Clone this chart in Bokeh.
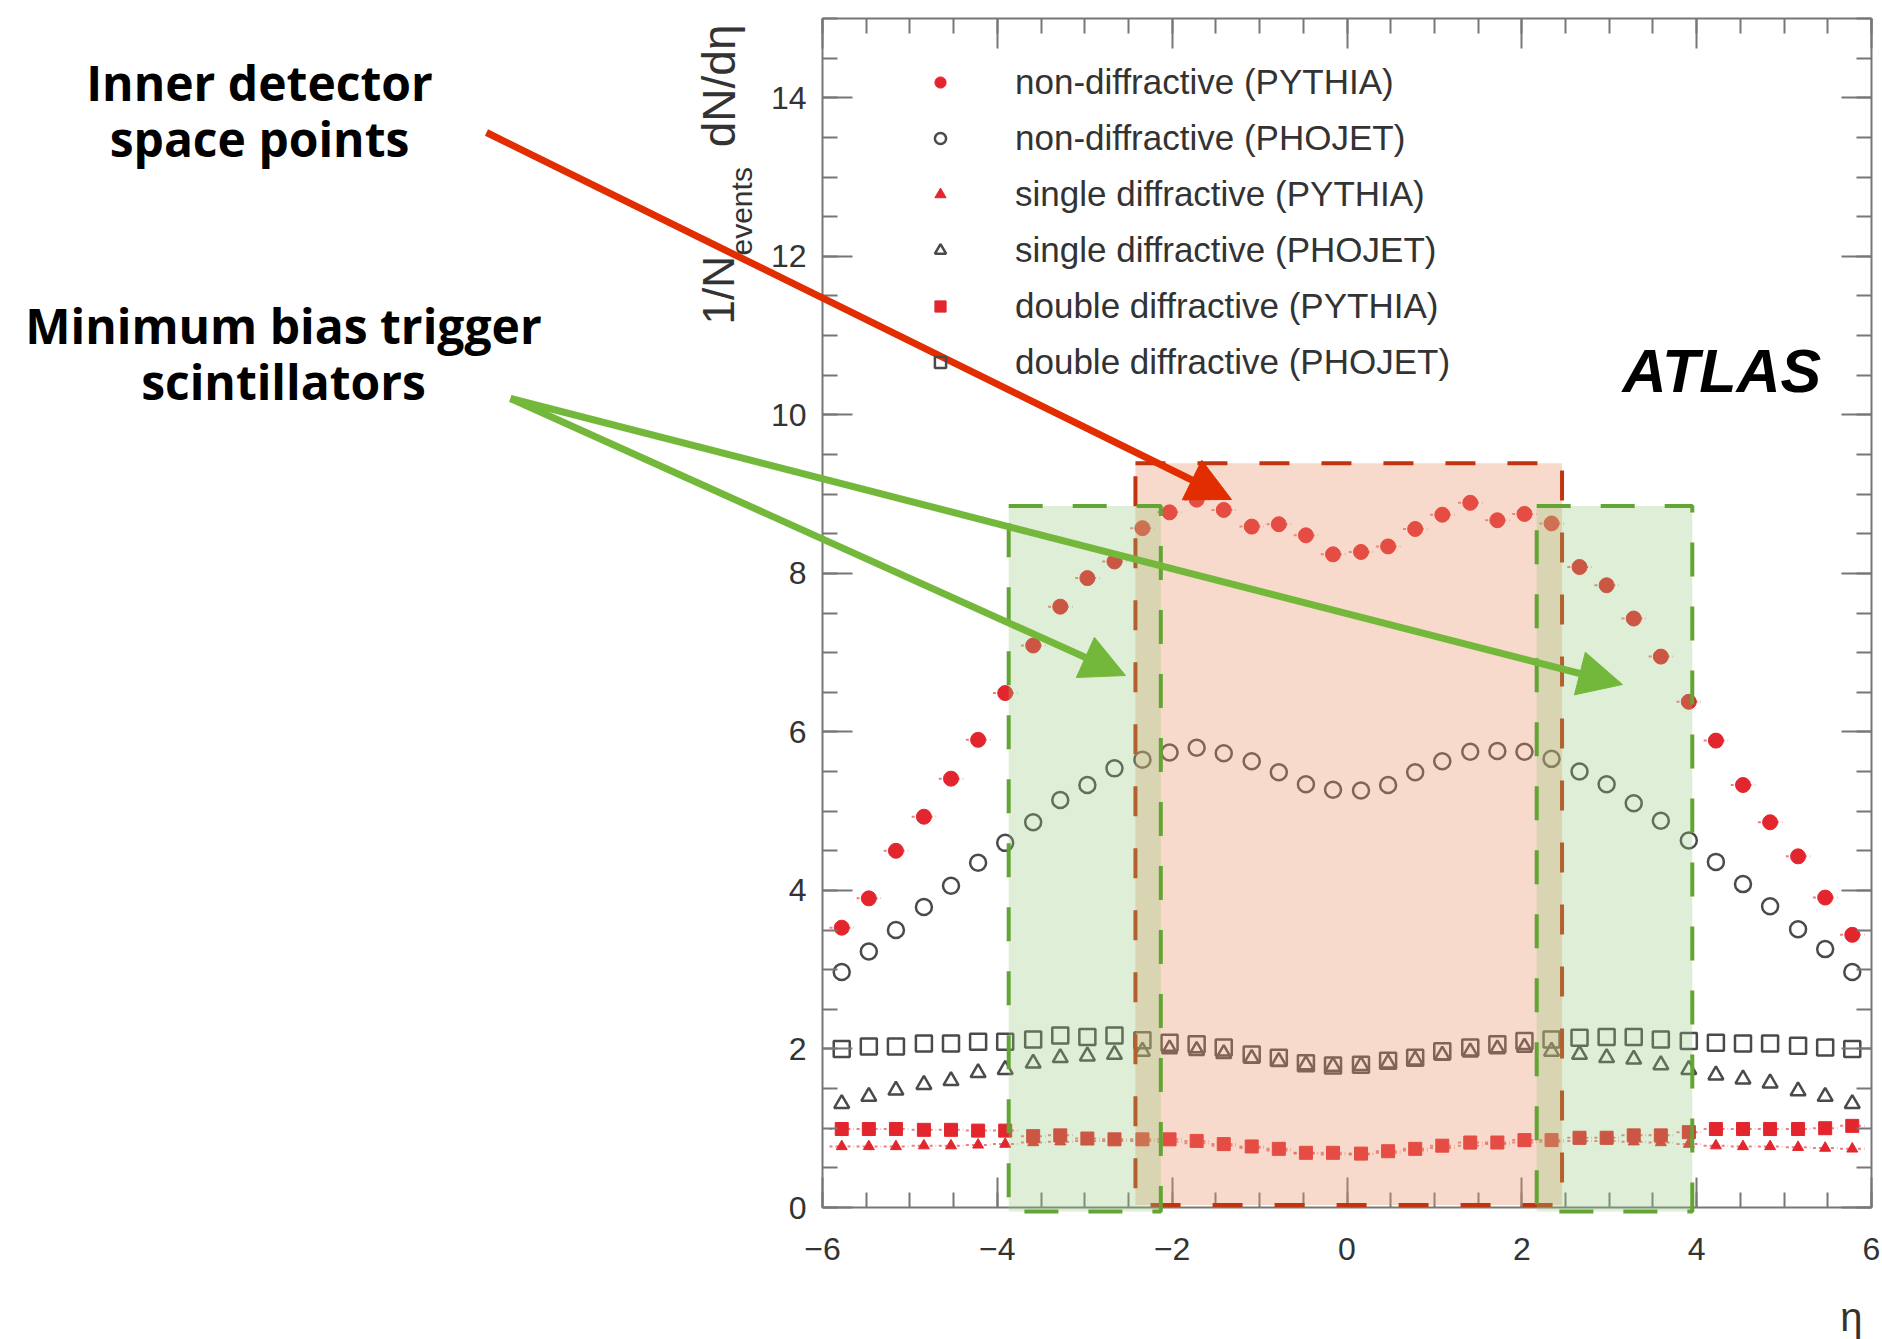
import numpy as np
from bokeh.plotting import figure
from bokeh.models import (BoxAnnotation, Arrow, NormalHead, Label, LinearAxis,
                          Legend, LegendItem, SingleIntervalTicker, Range1d)
from bokeh.embed import file_html
from bokeh.resources import INLINE

# ---------------- data ----------------
ETA = [-5.78, -5.47, -5.16, -4.84, -4.53, -4.22, -3.91, -3.59, -3.28, -2.97,
       -2.66, -2.34, -2.03, -1.72, -1.41, -1.09, -0.78, -0.47, -0.16,
       0.16, 0.47, 0.78, 1.09, 1.41, 1.72, 2.03, 2.34, 2.66, 2.97,
       3.28, 3.59, 3.91, 4.22, 4.53, 4.84, 5.16, 5.47, 5.78]

ND_PYTHIA = [3.53, 3.90, 4.50, 4.93, 5.41, 5.90, 6.49, 7.09, 7.58, 7.94,
             8.15, 8.57, 8.77, 8.93, 8.80, 8.59, 8.62, 8.48, 8.24,
             8.27, 8.34, 8.56, 8.74, 8.89, 8.67, 8.75, 8.63, 8.08, 7.85,
             7.43, 6.95, 6.38, 5.89, 5.33, 4.86, 4.43, 3.91, 3.44]

ND_PHOJET = [2.97, 3.23, 3.50, 3.79, 4.06, 4.35, 4.60, 4.86, 5.14, 5.33,
             5.54, 5.65, 5.74, 5.80, 5.73, 5.63, 5.49, 5.34, 5.27,
             5.26, 5.33, 5.49, 5.63, 5.75, 5.76, 5.75, 5.66, 5.50, 5.34,
             5.10, 4.88, 4.63, 4.36, 4.08, 3.80, 3.51, 3.26, 2.97]

SD_PYTHIA = [0.77, 0.77, 0.77, 0.78, 0.78, 0.79, 0.80, 0.82, 0.83, 0.84,
             0.84, 0.84, 0.83, 0.81, 0.78, 0.75, 0.72, 0.68, 0.67,
             0.67, 0.69, 0.72, 0.75, 0.78, 0.80, 0.82, 0.83, 0.84, 0.84,
             0.83, 0.82, 0.80, 0.78, 0.77, 0.77, 0.76, 0.75, 0.74]

SD_PHOJET = [1.31, 1.40, 1.48, 1.55, 1.60, 1.70, 1.74, 1.82, 1.89, 1.91,
             1.93, 1.97, 2.00, 1.98, 1.94, 1.88, 1.84, 1.80, 1.78,
             1.79, 1.82, 1.86, 1.92, 1.96, 2.00, 2.02, 1.97, 1.93, 1.89,
             1.87, 1.80, 1.74, 1.67, 1.62, 1.57, 1.47, 1.40, 1.31]

DD_PYTHIA = [0.99, 0.99, 0.99, 0.98, 0.98, 0.97, 0.97, 0.90, 0.91, 0.87,
             0.86, 0.86, 0.86, 0.84, 0.80, 0.77, 0.74, 0.69, 0.69,
             0.68, 0.71, 0.74, 0.78, 0.82, 0.82, 0.85, 0.85, 0.88, 0.88,
             0.91, 0.91, 0.95, 0.99, 0.99, 0.99, 0.99, 1.00, 1.03]

DD_PHOJET = [2.00, 2.03, 2.03, 2.07, 2.07, 2.09, 2.09, 2.12, 2.17, 2.15,
             2.17, 2.11, 2.08, 2.06, 2.02, 1.93, 1.89, 1.82, 1.79,
             1.80, 1.85, 1.89, 1.97, 2.02, 2.06, 2.10, 2.12, 2.14, 2.15,
             2.15, 2.12, 2.10, 2.08, 2.07, 2.07, 2.04, 2.02, 2.00]

LEGEND_LABELS = ["non-diffractive (PYTHIA)", "non-diffractive (PHOJET)",
                 "single diffractive (PYTHIA)", "single diffractive (PHOJET)",
                 "double diffractive (PYTHIA)", "double diffractive (PHOJET)"]

# detector acceptance regions (eta ranges) and heights of the overlay boxes
ID_RANGE = [-2.42, 2.46]
ID_TOP = 9.39
MBTS_LEFT = [-3.87, -2.13]
MBTS_RIGHT = [2.17, 3.95]
MBTS_TOP = 8.85
HALF_BIN = 0.14

# ---------------- layout ----------------
W, H = 1882, 1339
AX_L, AX_T, AX_W, AX_H = 822, 18, 1049, 1189     # pixel box of the chart's axes
X0, X1, Y0, Y1 = -6, 6, 0, 15


def dx(px):
    return X0 + (px - AX_L) * (X1 - X0) / AX_W


def dy(py):
    return Y0 + (AX_T + AX_H - py) * (Y1 - Y0) / AX_H


RED = "#e3262d"
GRAY = "#4a4a4a"
AXC = "#777777"
TICKFONT = "Liberation Sans"

# the frame covers the whole canvas so that the annotations outside the axes box
# (texts, arrows) are drawn; the axes are placed at fixed data locations
p = figure(width=W, height=H, x_range=Range1d(dx(0), dx(W)), y_range=Range1d(dy(H), dy(0)),
           output_backend="svg", toolbar_location=None,
           x_axis_location=None, y_axis_location=None)
p.min_border = 0
p.background_fill_color = "white"
p.border_fill_color = "white"
p.outline_line_color = None
p.grid.visible = False

ax_b = LinearAxis(fixed_location=Y0, bounds=(X0, X1))
ax_t = LinearAxis(fixed_location=Y1, bounds=(X0, X1))
ax_l = LinearAxis(fixed_location=X0, bounds=(Y0, Y1))
ax_r = LinearAxis(fixed_location=X1, bounds=(Y0, Y1))
p.add_layout(ax_b, "below")
p.add_layout(ax_t, "above")
p.add_layout(ax_l, "left")
p.add_layout(ax_r, "right")

for ax in (ax_b, ax_t, ax_l, ax_r):
    ax.ticker = SingleIntervalTicker(interval=2, num_minor_ticks=4)
    ax.major_tick_in = 30
    ax.major_tick_out = 0
    ax.minor_tick_in = 15
    ax.minor_tick_out = 0
    ax.major_tick_line_color = AXC
    ax.minor_tick_line_color = AXC
    ax.major_tick_line_width = 2
    ax.minor_tick_line_width = 2
    ax.axis_line_color = AXC
    ax.axis_line_width = 2
    ax.major_label_text_font = TICKFONT
    ax.major_label_text_font_size = "32px"
    ax.major_label_text_color = "#333333"

for ax in (ax_t, ax_r):
    ax.major_label_text_color = None
ax_b.major_label_standoff = 30
ax_l.major_label_standoff = 16

# ---------------- data marks ----------------
for vals in (DD_PYTHIA, SD_PYTHIA, ND_PYTHIA):
    p.segment(x0=[e - HALF_BIN for e in ETA], x1=[e + HALF_BIN for e in ETA],
              y0=vals, y1=vals, line_color=RED, line_alpha=0.6, line_width=2,
              line_dash="3 3")

r_sdp = p.scatter(ETA, SD_PYTHIA, marker="triangle", size=11, fill_color=RED, line_color=RED)
r_ddp = p.scatter(ETA, DD_PYTHIA, marker="square", size=13, fill_color=RED, line_color=RED)
r_sdh = p.scatter(ETA, SD_PHOJET, marker="triangle", size=15, fill_color=None,
                  line_color=GRAY, line_width=2.5)
r_ddh = p.scatter(ETA, DD_PHOJET, marker="square", size=16, fill_color=None,
                  line_color=GRAY, line_width=2.5)
r_ndh = p.scatter(ETA, ND_PHOJET, marker="circle", size=16, fill_color=None,
                  line_color=GRAY, line_width=2.5)
r_ndp = p.scatter(ETA, ND_PYTHIA, marker="circle", size=15, fill_color=RED, line_color=RED)

legend = Legend(items=[LegendItem(label=LEGEND_LABELS[0], renderers=[r_ndp]),
                       LegendItem(label=LEGEND_LABELS[1], renderers=[r_ndh]),
                       LegendItem(label=LEGEND_LABELS[2], renderers=[r_sdp]),
                       LegendItem(label=LEGEND_LABELS[3], renderers=[r_sdh]),
                       LegendItem(label=LEGEND_LABELS[4], renderers=[r_ddp]),
                       LegendItem(label=LEGEND_LABELS[5], renderers=[r_ddh])],
                location=(AX_L + 104, H - 390))
legend.glyph_width = 28
legend.glyph_height = 56
legend.label_height = 56
legend.spacing = 0
legend.padding = 0
legend.margin = 0
legend.label_standoff = 61
legend.label_text_font = TICKFONT
legend.label_text_font_size = "35px"
legend.label_text_color = "#333333"
legend.background_fill_alpha = 0
legend.border_line_alpha = 0
p.add_layout(legend)

# ---------------- overlays ----------------
p.add_layout(BoxAnnotation(left=ID_RANGE[0], right=ID_RANGE[1], bottom=0.03, top=ID_TOP,
                           fill_color="#e9966e", fill_alpha=0.35,
                           line_color="#c0340f", line_alpha=1.0, line_width=4,
                           line_dash="30 32"))
for lo, hi in (MBTS_LEFT, MBTS_RIGHT):
    p.add_layout(BoxAnnotation(left=lo, right=hi, bottom=-0.05, top=MBTS_TOP,
                               fill_color="#96c878", fill_alpha=0.3,
                               line_color="#62a534", line_alpha=1.0, line_width=4,
                               line_dash="34 30"))

ARROW_RED = "#e22d00"
ARROW_GREEN = "#74b83b"
p.add_layout(Arrow(end=NormalHead(size=44, fill_color=ARROW_RED, line_color=ARROW_RED),
                   x_start=dx(486), y_start=dy(132), x_end=dx(1231), y_end=dy(499),
                   line_color=ARROW_RED, line_width=7))
for ex, ey in ((1125, 675), (1622, 684)):
    p.add_layout(Arrow(end=NormalHead(size=44, fill_color=ARROW_GREEN, line_color=ARROW_GREEN),
                       x_start=dx(510), y_start=dy(398), x_end=dx(ex), y_end=dy(ey),
                       line_color=ARROW_GREEN, line_width=7))

for txt, cx, by in (("Inner detector", 259, 82), ("space points", 259, 138),
                    ("Minimum bias trigger", 283, 325), ("scintillators", 283, 381)):
    p.add_layout(Label(x=dx(cx), y=dy(by), text=txt, text_align="center",
                       text_baseline="alphabetic", text_font="Open Sans",
                       text_font_style="bold", text_font_size="48px", text_color="black"))

p.add_layout(Label(x=dx(1622), y=dy(370), text="ATLAS", text_align="left",
                   text_baseline="middle", text_font=TICKFONT,
                   text_font_style="bold italic", text_font_size="61px", text_color="black"))

# axis titles (ROOT style: at the end of the axes)
p.add_layout(Label(x=dx(1862), y=dy(1316), text="η", text_align="right",
                   text_baseline="middle", text_font=TICKFONT, text_font_size="40px",
                   text_color="#333333"))
p.add_layout(Label(x=dx(718), y=dy(324), text="1/N", angle=np.pi / 2, text_align="left",
                   text_baseline="middle", text_font=TICKFONT, text_font_size="44px",
                   text_color="#333333"))
p.add_layout(Label(x=dx(741), y=dy(255), text="events", angle=np.pi / 2, text_align="left",
                   text_baseline="middle", text_font=TICKFONT, text_font_size="30px",
                   text_color="#333333"))
p.add_layout(Label(x=dx(718), y=dy(24), text="dN/dη", angle=np.pi / 2, text_align="right",
                   text_baseline="middle", text_font=TICKFONT, text_font_size="46px",
                   text_color="#333333"))

open("out.html", "w").write(file_html(p, INLINE))
